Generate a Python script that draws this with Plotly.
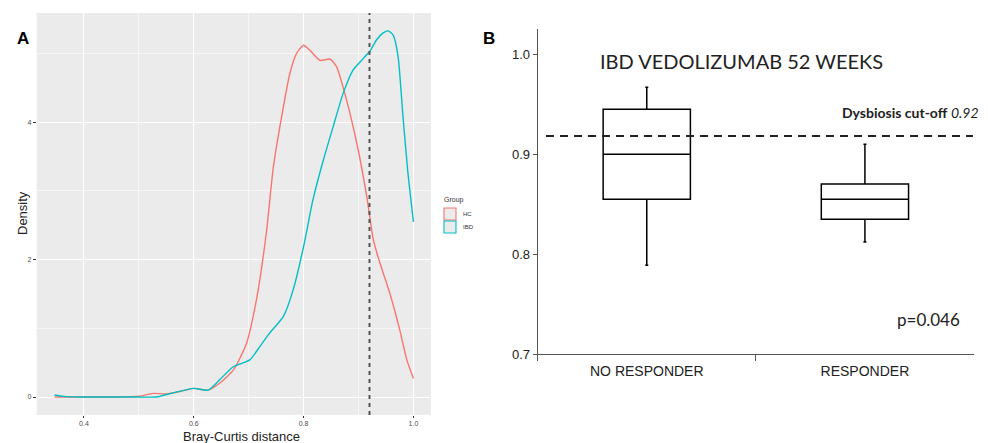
import plotly.graph_objects as go

# ---------------- Panel A: density of Bray-Curtis distance ----------------
hc_x = [0.3465, 0.40, 0.45, 0.50, 0.526, 0.55, 0.575, 0.60, 0.626, 0.647, 0.672, 0.696,
        0.714, 0.732, 0.745, 0.76, 0.775, 0.787, 0.80, 0.811, 0.83, 0.848, 0.86, 0.878,
        0.897, 0.915, 0.927, 0.939, 0.957, 0.975, 0.988, 1.0]
hc_y = [0.0, 0.0, 0.0, 0.01, 0.053, 0.045, 0.08, 0.126, 0.10, 0.20, 0.39, 0.78,
        1.41, 2.38, 3.35, 4.08, 4.71, 5.0, 5.12, 5.05, 4.9, 4.92, 4.81, 4.33,
        3.69, 2.92, 2.29, 1.95, 1.51, 0.98, 0.54, 0.27]

ibd_x = [0.3465, 0.368, 0.40, 0.45, 0.50, 0.532, 0.562, 0.60, 0.626, 0.647, 0.672, 0.702,
         0.72, 0.738, 0.763, 0.781, 0.80, 0.817, 0.836, 0.854, 0.872, 0.89, 0.909, 0.922,
         0.933, 0.945, 0.954, 0.963, 0.972, 0.981, 0.99, 1.0]
ibd_y = [0.03, 0.005, 0.0, 0.0, 0.0, 0.0, 0.06, 0.126, 0.10, 0.25, 0.44, 0.54,
         0.73, 0.93, 1.17, 1.56, 2.19, 2.87, 3.45, 3.94, 4.42, 4.76, 4.93, 5.05,
         5.2, 5.3, 5.33, 5.27, 4.96, 4.08, 3.26, 2.55]

groups = ["HC", "IBD"]
group_colors = ["#F8766D", "#00BFC4"]
legend_title = "Group"
density_cutoff = 0.92

a_xticks = [0.4, 0.6, 0.8, 1.0]
a_xticklabels = ["0.4", "0.6", "0.8", "1.0"]
a_yticks = [0, 2, 4]
a_yticklabels = ["0", "2", "4"]

# ---------------- Panel B: box plot ----------------
categories = ["NO RESPONDER", "RESPONDER"]
q1 = [0.8547, 0.8347]
median = [0.8997, 0.8547]
q3 = [0.9447, 0.870]
lower = [0.7887, 0.812]
upper = [0.9667, 0.9097]
b_cutoff = 0.918
b_yticks = [0.7, 0.8, 0.9, 1.0]
b_yticklabels = ["0.7", "0.8", "0.9", "1.0"]

ARIAL = "Liberation Sans, Arial, sans-serif"
CALIBRI = "Lato, Carlito, Calibri, sans-serif"

fig = go.Figure()

for name, col, xs, ys in [(groups[0], group_colors[0], hc_x, hc_y),
                          (groups[1], group_colors[1], ibd_x, ibd_y)]:
    fig.add_trace(go.Scatter(x=xs, y=ys, mode="lines", name=name,
                             line=dict(color=col, width=1.4, shape="spline", smoothing=0.6),
                             xaxis="x", yaxis="y", showlegend=False, hoverinfo="skip"))

fig.add_trace(go.Box(x=categories, q1=q1, median=median, q3=q3,
                     lowerfence=lower, upperfence=upper,
                     fillcolor="white", line=dict(color="black", width=1.5),
                     width=0.4, whiskerwidth=0.035, boxpoints=False,
                     xaxis="x2", yaxis="y2", showlegend=False))

W, H = 988, 443
def px(x):
    return x / W
def py(y):
    return 1 - y / H

fig.update_layout(
    width=W, height=H,
    margin=dict(l=0, r=0, t=0, b=0),
    paper_bgcolor="white",
    plot_bgcolor="rgba(0,0,0,0)",
    font=dict(family=ARIAL, color="#222"),
    showlegend=False,
    xaxis=dict(domain=[px(36.7), px(431)], range=[0.314, 1.032], anchor="y",
               automargin=False,
               tickvals=a_xticks, ticktext=a_xticklabels,
               tickfont=dict(size=7, color="#4D4D4D"), ticks="outside", ticklen=2,
               tickcolor="#333", showgrid=True, gridcolor="white", gridwidth=1.2,
               minor=dict(tickvals=[0.5, 0.7, 0.9], showgrid=True,
                          gridcolor="#F6F6F6", gridwidth=0.6, ticks=""),
               zeroline=False, showline=False),
    yaxis=dict(domain=[py(415), py(13)], range=[-0.262, 5.59], anchor="x",
               automargin=False,
               tickvals=a_yticks, ticktext=a_yticklabels,
               tickfont=dict(size=7, color="#4D4D4D"), ticks="outside", ticklen=3,
               tickcolor="#333", showgrid=True, gridcolor="white", gridwidth=1.2,
               minor=dict(tickvals=[1, 3, 5], showgrid=True,
                          gridcolor="#F6F6F6", gridwidth=0.6, ticks=""),
               zeroline=False, showline=False),
    xaxis2=dict(domain=[px(537.7), px(974)], type="category",
                categoryorder="array", categoryarray=categories,
                range=[-0.5, 1.5], anchor="y2", automargin=False,
                showline=True, linecolor="#555", linewidth=1,
                ticks="outside", tickson="boundaries", ticklen=6, tickcolor="#555",
                ticklabelstandoff=4,
                tickfont=dict(size=14, color="#222", family=ARIAL),
                showgrid=False, zeroline=False),
    yaxis2=dict(domain=[py(354), py(29.3)], range=[0.7, 1.0247], anchor="x2",
                automargin=False,
                tickvals=b_yticks, ticktext=b_yticklabels,
                showline=True, linecolor="#555", linewidth=1,
                ticks="outside", ticklen=4, tickcolor="#555",
                tickfont=dict(size=13, color="#222", family=ARIAL),
                showgrid=False, zeroline=False),
)

# panel A grey background
fig.add_shape(type="rect", xref="x domain", yref="y domain", x0=0, x1=1, y0=0, y1=1,
              fillcolor="#EBEBEB", line=dict(width=0), layer="below")
# panel A cut-off vertical line
fig.add_shape(type="line", xref="x", yref="y domain", x0=density_cutoff, x1=density_cutoff,
              y0=0, y1=1, line=dict(color="#555", width=2, dash="4px,4px"))
# panel B cut-off line
fig.add_shape(type="line", xref="paper", yref="y2", x0=px(546), x1=px(973),
              y0=b_cutoff, y1=b_cutoff, line=dict(color="#222", width=2, dash="8px,6px"))

# panel A legend (ggplot-style boxed keys)
fig.add_annotation(text=legend_title, x=px(442), y=py(199.5), xref="paper", yref="paper",
                   showarrow=False, xanchor="left", yanchor="middle",
                   font=dict(size=7, color="#333", family=ARIAL))
key_top = [208, 221]
for name, col, top in zip(groups, group_colors, key_top):
    fig.add_shape(type="rect", xref="paper", yref="paper",
                  x0=px(444), x1=px(456), y0=py(top + 12), y1=py(top),
                  fillcolor="#EBEBEB", line=dict(color=col, width=1.1))
    fig.add_annotation(text=name, x=px(461), y=py(top + 6), xref="paper", yref="paper",
                       showarrow=False, xanchor="left", yanchor="middle",
                       font=dict(size=6, color="#333", family=ARIAL))

ann = [
    dict(text="<b>A</b>", x=px(23), y=py(38.5), font=dict(size=17, color="black", family=ARIAL)),
    dict(text="<b>B</b>", x=px(489), y=py(38), font=dict(size=17, color="black", family=ARIAL)),
    dict(text="Density", x=px(23), y=py(213), textangle=-90,
         font=dict(size=13, color="#222", family=ARIAL)),
    dict(text="Bray-Curtis distance", x=px(241), y=py(436),
         font=dict(size=13, color="#222", family=ARIAL)),
    dict(text="IBD VEDOLIZUMAB 52 WEEKS", x=px(741), y=py(61),
         font=dict(size=20, color="#222", family=CALIBRI)),
    dict(text="<b>Dysbiosis cut-off</b> <i>0.92</i>", x=px(910), y=py(112.7),
         font=dict(size=14, color="#222", family=CALIBRI)),
    dict(text="p=0.046", x=px(928), y=py(319),
         font=dict(size=17, color="#222", family=CALIBRI)),
]
for a in ann:
    fig.add_annotation(xref="paper", yref="paper", showarrow=False,
                       xanchor="center", yanchor="middle", **a)

fig.write_html("out.html", config={"displayModeBar": False},
               post_script="document.body.style.margin='0';document.body.style.overflow='hidden';")
